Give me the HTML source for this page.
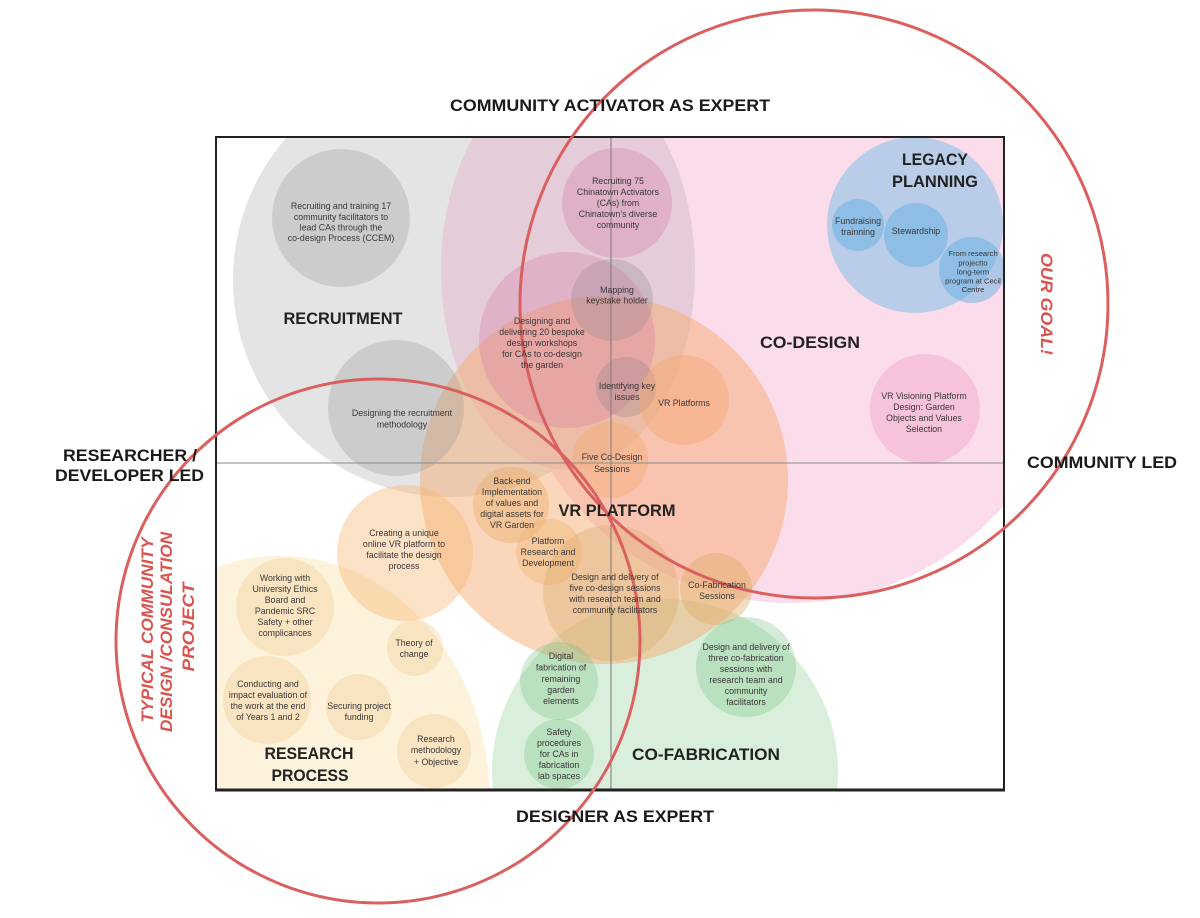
<!DOCTYPE html>
<html><head><meta charset="utf-8"><style>
html,body{margin:0;padding:0;background:#fff;width:1200px;height:918px;overflow:hidden;}
svg{display:block;}
text{font-family:"Liberation Sans",Arial,sans-serif;}
.s{font-size:8.8px;fill:#3a3636;text-anchor:middle;}
.xs{font-size:7.6px;fill:#3a3636;text-anchor:middle;}
.h{font-size:17px;font-weight:bold;fill:#222;text-anchor:middle;}
.ax{font-size:17px;font-weight:bold;fill:#1a1a1a;}
.r{font-size:17px;font-weight:bold;font-style:italic;fill:#d9534f;text-anchor:middle;}
</style></head><body>
<svg width="1200" height="918" viewBox="0 0 1200 918" xmlns="http://www.w3.org/2000/svg">
<defs><clipPath id="box"><rect x="216" y="137" width="788" height="653"/></clipPath></defs>
<g clip-path="url(#box)">
  <circle cx="790" cy="320" r="283" fill="#fbdcea"/>
  <circle cx="450" cy="280" r="217" fill="#e4e4e4"/>
  <circle cx="915" cy="225" r="88" fill="#b9cce8"/>
  <ellipse cx="568" cy="270" rx="127" ry="200" fill="#e4cad8" fill-opacity="0.92"/>
  <path d="M 70.2 790 A 210 245 0 0 1 489.8 790 Z" fill="rgba(250,222,165,0.4)"/>
  <path d="M 492.94 790 A 173 173 0 1 1 837.06 790 Z" fill="rgba(170,220,175,0.45)"/>
  <circle cx="604" cy="480" r="184" fill="rgba(245,170,110,0.47)"/>

  <!-- gray nodes -->
  <circle cx="341" cy="218" r="69" fill="rgba(150,150,150,0.3)"/>
  <circle cx="396" cy="408" r="68" fill="rgba(150,150,150,0.3)"/>
  <!-- pink nodes -->
  <circle cx="617" cy="203" r="55" fill="rgba(215,125,170,0.35)"/>
  <circle cx="567" cy="340" r="88" fill="rgba(215,120,160,0.3)"/>
  <circle cx="612" cy="300" r="41" fill="rgba(140,130,140,0.28)"/>
  <circle cx="626" cy="387" r="30" fill="rgba(140,125,135,0.28)"/>
  <circle cx="684" cy="400" r="45" fill="rgba(245,165,110,0.4)"/>
  <circle cx="610" cy="460" r="38" fill="rgba(245,170,110,0.4)"/>
  <circle cx="925" cy="409" r="55" fill="rgba(240,150,195,0.35)"/>
  <!-- blue nodes -->
  <circle cx="858" cy="225" r="26" fill="rgba(100,175,228,0.5)"/>
  <circle cx="916" cy="235" r="32" fill="rgba(100,175,228,0.5)"/>
  <circle cx="972" cy="270" r="33" fill="rgba(100,175,228,0.5)"/>
  <!-- orange nodes -->
  <circle cx="511" cy="505" r="38" fill="rgba(235,170,100,0.4)"/>
  <circle cx="549" cy="552" r="33" fill="rgba(240,180,110,0.4)"/>
  <circle cx="611" cy="593" r="68" fill="rgba(215,165,100,0.33)"/>
  <circle cx="716" cy="589" r="36" fill="rgba(220,170,100,0.4)"/>
  <circle cx="405" cy="553" r="68" fill="rgba(245,180,110,0.4)"/>
  <!-- green nodes -->
  <circle cx="559" cy="681" r="39" fill="rgba(120,195,135,0.33)"/>
  <circle cx="559" cy="754" r="35" fill="rgba(120,195,135,0.33)"/>
  <circle cx="746" cy="667" r="50" fill="rgba(120,195,135,0.33)"/>
  <!-- cream nodes -->
  <circle cx="285" cy="607" r="49" fill="rgba(240,200,140,0.32)"/>
  <circle cx="415" cy="648" r="28" fill="rgba(240,200,140,0.32)"/>
  <circle cx="267" cy="700" r="44" fill="rgba(240,200,140,0.32)"/>
  <circle cx="359" cy="707" r="33" fill="rgba(240,200,140,0.32)"/>
  <circle cx="434" cy="751" r="37" fill="rgba(240,200,140,0.32)"/>

  <line x1="216" y1="463" x2="1004" y2="463" stroke="#8a8a8a" stroke-width="1"/>
  <line x1="611" y1="137" x2="611" y2="790" stroke="#7a7a7a" stroke-width="1"/>
</g>
<rect x="216" y="137" width="788" height="653" fill="none" stroke="#222" stroke-width="2"/>
<line x1="215" y1="790" x2="1005" y2="790" stroke="#222" stroke-width="3"/>

<!-- red circles -->
<circle cx="814" cy="304" r="294" fill="none" stroke="#d9605e" stroke-width="3"/>
<circle cx="378" cy="641" r="262" fill="none" stroke="#d9605e" stroke-width="3"/>

<!-- axis labels -->
<text class="ax" x="450" y="111" textLength="320" lengthAdjust="spacingAndGlyphs">COMMUNITY ACTIVATOR AS EXPERT</text>
<text class="ax" x="516" y="822" textLength="198" lengthAdjust="spacingAndGlyphs">DESIGNER AS EXPERT</text>
<text class="ax" x="1027" y="468" textLength="150" lengthAdjust="spacingAndGlyphs">COMMUNITY LED</text>
<text class="ax" x="63" y="461" textLength="134" lengthAdjust="spacingAndGlyphs">RESEARCHER /</text>
<text class="ax" x="55" y="481" textLength="149" lengthAdjust="spacingAndGlyphs">DEVELOPER LED</text>

<!-- red labels -->
<g transform="translate(1041,304) rotate(90)"><text class="r" x="0" y="0" textLength="102" lengthAdjust="spacingAndGlyphs">OUR GOAL!</text></g>
<g transform="translate(0,630) rotate(-90)">
  <text class="r" x="0" y="153" textLength="185" lengthAdjust="spacingAndGlyphs">TYPICAL COMMUNITY</text>
  <text class="r" x="-2" y="172" textLength="200" lengthAdjust="spacingAndGlyphs">DESIGN /CONSULATION</text>
  <text class="r" x="3" y="194" textLength="89" lengthAdjust="spacingAndGlyphs">PROJECT</text>
</g>

<!-- section titles -->
<text class="h" x="343" y="324" textLength="119" lengthAdjust="spacingAndGlyphs">RECRUITMENT</text>
<text class="h" x="935" y="165" textLength="66" lengthAdjust="spacingAndGlyphs">LEGACY</text>
<text class="h" x="935" y="187" textLength="86" lengthAdjust="spacingAndGlyphs">PLANNING</text>
<text class="h" x="810" y="348" textLength="100" lengthAdjust="spacingAndGlyphs">CO-DESIGN</text>
<text class="h" x="617" y="516" textLength="117" lengthAdjust="spacingAndGlyphs">VR PLATFORM</text>
<text class="h" x="309" y="759" textLength="89" lengthAdjust="spacingAndGlyphs">RESEARCH</text>
<text class="h" x="310" y="781" textLength="77" lengthAdjust="spacingAndGlyphs">PROCESS</text>
<text class="h" x="706" y="760" textLength="148" lengthAdjust="spacingAndGlyphs">CO-FABRICATION</text>

<!-- node labels -->
<text class="s" x="341"><tspan x="341" y="209">Recruiting and training 17</tspan><tspan x="341" y="220">community facilitators to</tspan><tspan x="341" y="230.5">lead CAs through the</tspan><tspan x="341" y="241">co-design Process (CCEM)</tspan></text>
<text class="s"><tspan x="402" y="416">Designing the recruitment</tspan><tspan x="402" y="427.5">methodology</tspan></text>
<text class="s"><tspan x="618" y="184">Recruiting 75</tspan><tspan x="618" y="195">Chinatown Activators</tspan><tspan x="618" y="206">(CAs) from</tspan><tspan x="618" y="217">Chinatown’s diverse</tspan><tspan x="618" y="228">community</tspan></text>
<text class="s"><tspan x="617" y="293">Mapping</tspan><tspan x="617" y="303.5">keystake holder</tspan></text>
<text class="s"><tspan x="542" y="324">Designing and</tspan><tspan x="542" y="335">delivering 20 bespoke</tspan><tspan x="542" y="346">design workshops</tspan><tspan x="542" y="357">for CAs to co-design</tspan><tspan x="542" y="368">the garden</tspan></text>
<text class="s"><tspan x="627" y="389">Identifying key</tspan><tspan x="627" y="400">issues</tspan></text>
<text class="s"><tspan x="684" y="406">VR Platforms</tspan></text>
<text class="s"><tspan x="612" y="460">Five Co-Design</tspan><tspan x="612" y="472">Sessions</tspan></text>
<text class="s"><tspan x="512" y="484">Back-end</tspan><tspan x="512" y="495">Implementation</tspan><tspan x="512" y="506">of values and</tspan><tspan x="512" y="517">digital assets for</tspan><tspan x="512" y="528">VR Garden</tspan></text>
<text class="s"><tspan x="548" y="544">Platform</tspan><tspan x="548" y="555">Research and</tspan><tspan x="548" y="566">Development</tspan></text>
<text class="s"><tspan x="615" y="580">Design and delivery of</tspan><tspan x="615" y="591">five co-design sessions</tspan><tspan x="615" y="602">with research team and</tspan><tspan x="615" y="613">community facilitators</tspan></text>
<text class="s"><tspan x="717" y="588">Co-Fabrication</tspan><tspan x="717" y="599">Sessions</tspan></text>
<text class="s"><tspan x="561" y="659">Digital</tspan><tspan x="561" y="670.5">fabrication of</tspan><tspan x="561" y="682">remaining</tspan><tspan x="561" y="693">garden</tspan><tspan x="561" y="704">elements</tspan></text>
<text class="s"><tspan x="559" y="735">Safety</tspan><tspan x="559" y="746">procedures</tspan><tspan x="559" y="757">for CAs in</tspan><tspan x="559" y="768">fabrication</tspan><tspan x="559" y="779">lab spaces</tspan></text>
<text class="s"><tspan x="746" y="650">Design and delivery of</tspan><tspan x="746" y="661">three co-fabrication</tspan><tspan x="746" y="672">sessions with</tspan><tspan x="746" y="683">research team and</tspan><tspan x="746" y="694">community</tspan><tspan x="746" y="705">facilitators</tspan></text>
<text class="s"><tspan x="858" y="224">Fundraising</tspan><tspan x="858" y="235">trainning</tspan></text>
<text class="s"><tspan x="916" y="234">Stewardship</tspan></text>
<text class="xs"><tspan x="973" y="256">From research</tspan><tspan x="973" y="265.5">projectto</tspan><tspan x="973" y="274.5">long-term</tspan><tspan x="973" y="283.5">program at Cecil</tspan><tspan x="973" y="292">Centre</tspan></text>
<text class="s"><tspan x="924" y="399">VR Visioning Platform</tspan><tspan x="924" y="410">Design: Garden</tspan><tspan x="924" y="421">Objects and Values</tspan><tspan x="924" y="432">Selection</tspan></text>
<text class="s"><tspan x="404" y="536">Creating a unique</tspan><tspan x="404" y="547">online VR platform to</tspan><tspan x="404" y="558">facilitate the design</tspan><tspan x="404" y="569">process</tspan></text>
<text class="s"><tspan x="285" y="581">Working with</tspan><tspan x="285" y="592">University Ethics</tspan><tspan x="285" y="603">Board and</tspan><tspan x="285" y="614">Pandemic SRC</tspan><tspan x="285" y="625">Safety + other</tspan><tspan x="285" y="636">complicances</tspan></text>
<text class="s"><tspan x="414" y="646">Theory of</tspan><tspan x="414" y="657">change</tspan></text>
<text class="s"><tspan x="268" y="687">Conducting and</tspan><tspan x="268" y="698">impact evaluation of</tspan><tspan x="268" y="709">the work at the end</tspan><tspan x="268" y="720">of Years 1 and 2</tspan></text>
<text class="s"><tspan x="359" y="709">Securing project</tspan><tspan x="359" y="720">funding</tspan></text>
<text class="s"><tspan x="436" y="742">Research</tspan><tspan x="436" y="753">methodology</tspan><tspan x="436" y="765">+ Objective</tspan></text>
</svg>
</body></html>
